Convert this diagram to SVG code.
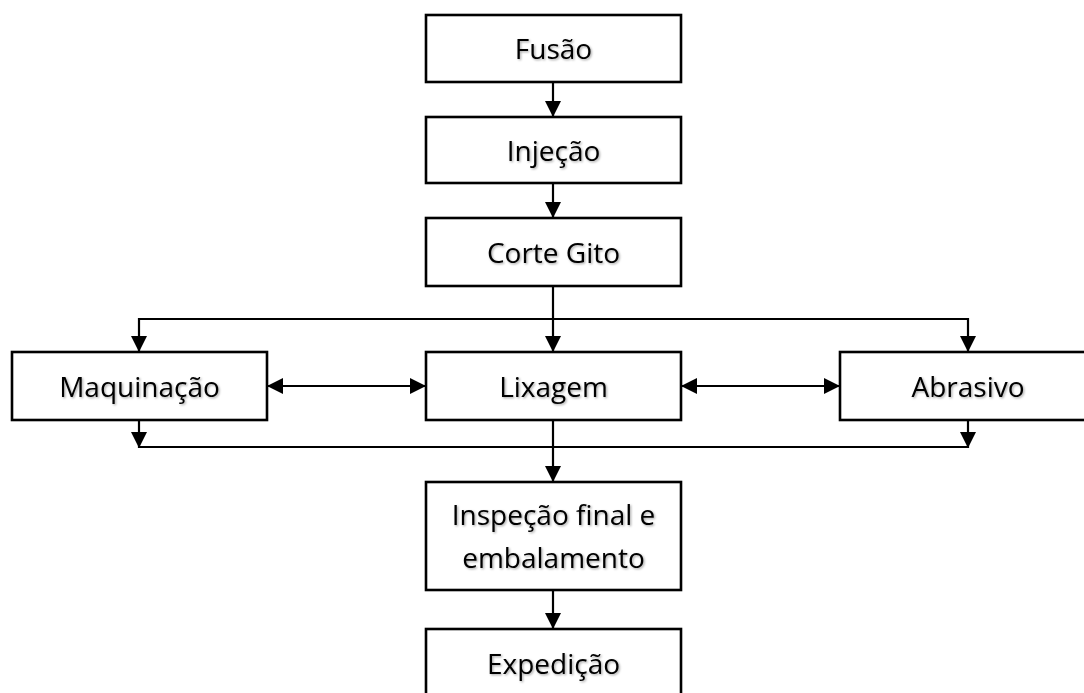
<svg xmlns="http://www.w3.org/2000/svg" width="1084" height="693" viewBox="0 0 1084 693">
  <defs>
    <marker id="arrow" markerUnits="userSpaceOnUse" markerWidth="16" markerHeight="16" viewBox="0 0 16 16" refX="16" refY="8" orient="auto-start-reverse">
      <path d="M0,0 L16,8 L0,16 Z" fill="#000"/>
    </marker>
    <filter id="shadow" x="-10%" y="-30%" width="120%" height="160%">
      <feDropShadow dx="1.2" dy="1.2" stdDeviation="0.8" flood-color="#000" flood-opacity="0.35"/>
    </filter>
  </defs>
  <style>
    .box { fill: #fff; stroke: #000; stroke-width: 2.6; }
    .label { font-family: "Open Sans", "Noto Sans", "Liberation Sans", sans-serif; font-size: 28px; fill: #000; text-anchor: middle; filter: url(#shadow); }
    .link { fill: none; stroke: #000; stroke-width: 2.2; }
    .arrow { marker-end: url(#arrow); }
    .both { marker-start: url(#arrow); marker-end: url(#arrow); }
  </style>
  <rect width="1084" height="693" fill="#fff"/>

  <g id="connectors">
    <line class="link arrow" x1="553" y1="82" x2="553" y2="117"/>
    <line class="link arrow" x1="553" y1="183" x2="553" y2="218"/>
    <line class="link arrow" x1="553" y1="286" x2="553" y2="352"/>
    <!-- distribution bar above the three parallel steps -->
    <line class="link" x1="139" y1="319" x2="968" y2="319"/>
    <line class="link arrow" x1="139" y1="318" x2="139" y2="352"/>
    <line class="link arrow" x1="968" y1="318" x2="968" y2="352"/>
    <!-- exchanges between the parallel steps -->
    <line class="link both" x1="267" y1="386" x2="426" y2="386"/>
    <line class="link both" x1="681" y1="386" x2="840" y2="386"/>
    <!-- collection bar below the parallel steps -->
    <line class="link arrow" x1="139" y1="420" x2="139" y2="448"/>
    <line class="link arrow" x1="968" y1="420" x2="968" y2="448"/>
    <line class="link" x1="139" y1="447" x2="968" y2="447"/>
    <line class="link arrow" x1="553" y1="420" x2="553" y2="482"/>
    <line class="link arrow" x1="553" y1="590" x2="553" y2="629"/>
  </g>

  <g id="fusao">
    <rect class="box" x="426" y="15" width="255" height="67"/>
    <text class="label" x="553.5" y="59">Fusão</text>
  </g>
  <g id="injecao">
    <rect class="box" x="426" y="117" width="255" height="66"/>
    <text class="label" x="553.5" y="161">Injeção</text>
  </g>
  <g id="corte-gito">
    <rect class="box" x="426" y="218" width="255" height="68"/>
    <text class="label" x="553.5" y="263">Corte Gito</text>
  </g>
  <g id="maquinacao">
    <rect class="box" x="12" y="352" width="255" height="68"/>
    <text class="label" x="139.5" y="397">Maquinação</text>
  </g>
  <g id="lixagem">
    <rect class="box" x="426" y="352" width="255" height="68"/>
    <text class="label" x="553.5" y="397">Lixagem</text>
  </g>
  <g id="abrasivo">
    <rect class="box" x="840" y="352" width="256" height="68"/>
    <text class="label" x="968" y="397">Abrasivo</text>
  </g>
  <g id="inspecao">
    <rect class="box" x="426" y="482" width="255" height="108"/>
    <text class="label" x="553.5" y="525">Inspeção final e</text>
    <text class="label" x="553.5" y="568">embalamento</text>
  </g>
  <g id="expedicao">
    <rect class="box" x="426" y="629" width="255" height="72"/>
    <text class="label" x="553.5" y="674">Expedição</text>
  </g>
</svg>
